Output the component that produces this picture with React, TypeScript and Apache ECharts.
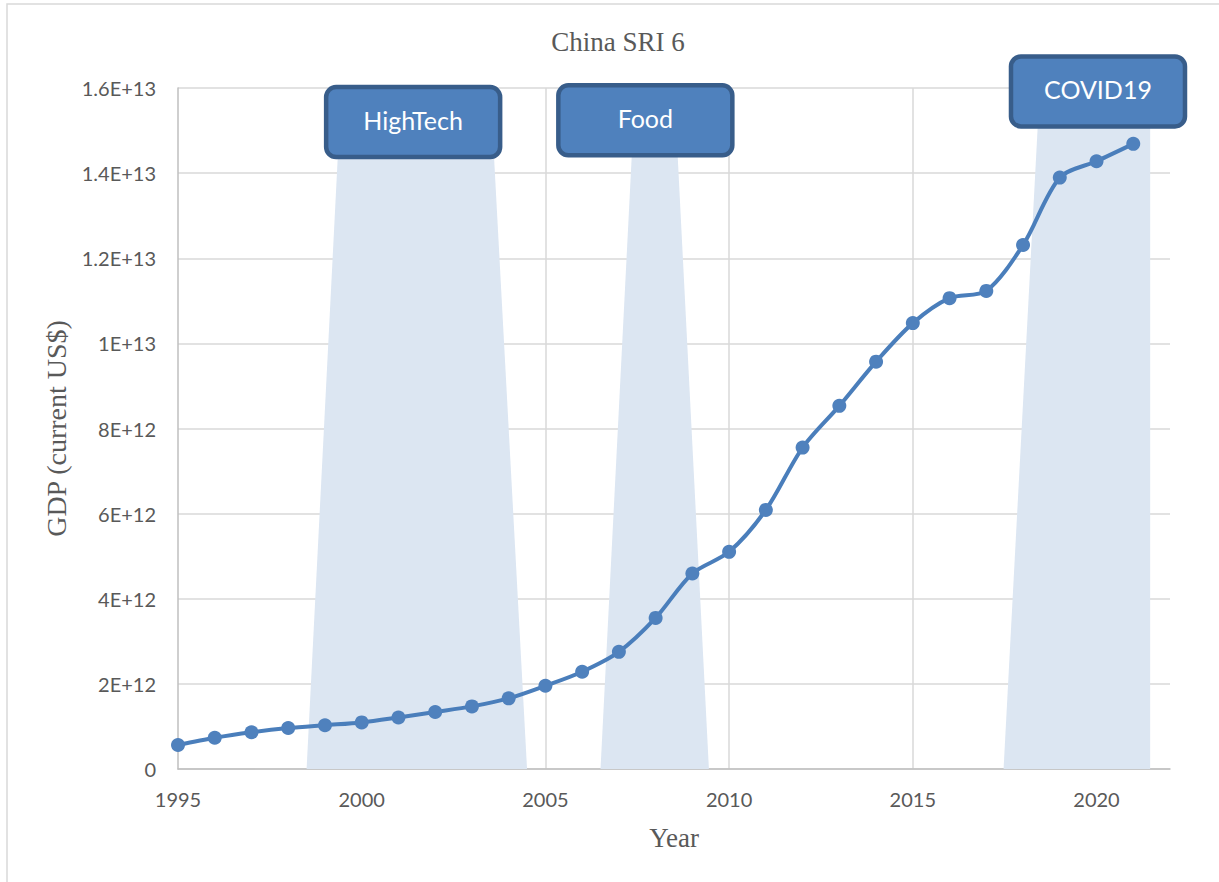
import { useEffect, useRef } from "react";
import * as echarts from "echarts";

const years = [1995, 1996, 1997, 1998, 1999, 2000, 2001, 2002, 2003, 2004, 2005, 2006, 2007, 2008, 2009, 2010, 2011, 2012, 2013, 2014, 2015, 2016, 2017, 2018, 2019, 2020, 2021];
const gdp = [
  5.64e11, 7.34e11, 8.64e11, 9.62e11, 1.029e12, 1.094e12, 1.211e12, 1.339e12, 1.471e12, 1.66e12,
  1.955e12, 2.286e12, 2.752e12, 3.55e12, 4.594e12, 5.102e12, 6.087e12, 7.552e12, 8.532e12, 9.57e12,
  1.0476e13, 1.1062e13, 1.1233e13, 1.231e13, 1.3895e13, 1.428e13, 1.4688e13,
];

const bandLabels = ["HighTech", "Food", "COVID19"];
const bandBottomStart = [1998.5, 2006.5, 2017.47];
const bandBottomEnd = [2004.5, 2009.45, 2021.46];
const bandTopStart = [1999.35, 2007.35, 2018.4];
const bandTopEnd = [2003.6, 2008.6, 2021.46];
const bandTopValue = [1.44e13, 1.44e13, 1.51e13];
const boxCenterYear = [2001.4, 2007.72, 2020.04];
const boxCenterValue = [1.52e13, 1.524e13, 1.592e13];

const xMin = 1995;
const xMax = 2022;
const xStep = 5;
const yMax = 1.6e13;
const yStep = 2e12;

function sciLabel(v: number): string {
  if (v === 0) return "0";
  const exp = Math.floor(Math.log10(v) + 1e-9);
  const mant = parseFloat((v / Math.pow(10, exp)).toFixed(2));
  return `${mant}E+${exp}`;
}

export default function App() {
  const ref = useRef<HTMLDivElement>(null);
  useEffect(() => {
    if (!ref.current) return;
    const chart = echarts.init(ref.current, null, { renderer: "svg" });
    const labelFont = "Lato, 'Liberation Sans', sans-serif";
    const serif = "'Liberation Serif', 'DejaVu Serif', serif";
    chart.setOption({
      animation: false,
      backgroundColor: "#ffffff",
      title: {
        text: "China SRI 6",
        left: 613,
        top: 23,
        textAlign: "center",
        textStyle: { fontFamily: serif, fontSize: 27, fontWeight: "normal", color: "#595959" },
      },
      graphic: [
        {
          type: "rect",
          silent: true,
          shape: { x: 7, y: 4, width: 1400, height: 1000 },
          style: { fill: "none", stroke: "#d9d9d9", lineWidth: 1.5 },
        },
      ],
      grid: { left: 178, right: 49, top: 88, bottom: 113, containLabel: false },
      xAxis: {
        type: "value",
        min: xMin,
        max: xMax,
        interval: xStep,
        name: "Year",
        nameLocation: "middle",
        nameGap: 55,
        nameTextStyle: { fontFamily: serif, fontSize: 27, color: "#595959" },
        axisLine: { show: true, lineStyle: { color: "#bfbfbf", width: 1.5 } },
        axisTick: { show: false },
        axisLabel: {
          margin: 20,
          fontFamily: labelFont,
          fontSize: 20,
          color: "#595959",
          showMaxLabel: false,
          formatter: (v: number) => (v % xStep === 0 ? String(v) : ""),
        },
        splitLine: { show: true, showMinLine: false, showMaxLine: false, lineStyle: { color: "#d9d9d9", width: 1.5 } },
      },
      yAxis: {
        type: "value",
        min: 0,
        max: yMax,
        interval: yStep,
        name: "GDP (current US$)",
        nameLocation: "middle",
        nameGap: 105,
        nameTextStyle: { fontFamily: serif, fontSize: 28, color: "#595959" },
        axisLine: { show: true, lineStyle: { color: "#bfbfbf", width: 1.5 } },
        axisTick: { show: false },
        axisLabel: {
          margin: 22,
          fontFamily: labelFont,
          fontSize: 20,
          color: "#595959",
          formatter: sciLabel,
        },
        splitLine: { show: true, lineStyle: { color: "#d9d9d9", width: 1.5 } },
      },
      series: [
        {
          type: "custom",
          z: 1,
          silent: true,
          encode: { x: [0, 1, 2, 3], y: 4 },
          data: bandLabels.map((_, i) => [bandBottomStart[i], bandBottomEnd[i], bandTopStart[i], bandTopEnd[i], bandTopValue[i]]),
          renderItem: (params: any, api: any) => {
            const p1 = api.coord([api.value(0), 0]);
            const p2 = api.coord([api.value(2), api.value(4)]);
            const p3 = api.coord([api.value(3), api.value(4)]);
            const p4 = api.coord([api.value(1), 0]);
            return {
              type: "polygon",
              shape: { points: [p1, p2, p3, p4] },
              style: { fill: "#dce6f2" },
            };
          },
        },
        {
          type: "line",
          z: 3,
          data: years.map((y, i) => [y, gdp[i]]),
          smooth: 0.3,
          symbol: "circle",
          symbolSize: 14,
          lineStyle: { color: "#4a7ebb", width: 4 },
          itemStyle: { color: "#4f81bd" },
        },
        {
          type: "custom",
          z: 5,
          silent: true,
          clip: false,
          data: bandLabels.map((_, i) => [boxCenterYear[i], boxCenterValue[i]]),
          renderItem: (params: any, api: any) => {
            const c = api.coord([api.value(0), api.value(1)]);
            return {
              type: "group",
              children: [
                {
                  type: "rect",
                  shape: { x: c[0] - 87, y: c[1] - 35, width: 174, height: 70, r: 10 },
                  style: { fill: "#4f81bd", stroke: "#385d8a", lineWidth: 4.5 },
                },
                {
                  type: "text",
                  style: {
                    text: bandLabels[params.dataIndex],
                    x: c[0],
                    y: c[1] - 2,
                    align: "center",
                    verticalAlign: "middle",
                    fill: "#ffffff",
                    fontSize: 25,
                    fontFamily: labelFont,
                  },
                },
              ],
            };
          },
        },
      ],
    });
    return () => chart.dispose();
  }, []);
  return <div ref={ref} style={{ position: "fixed", left: 0, top: 0, width: 1219, height: 882 }} />;
}
